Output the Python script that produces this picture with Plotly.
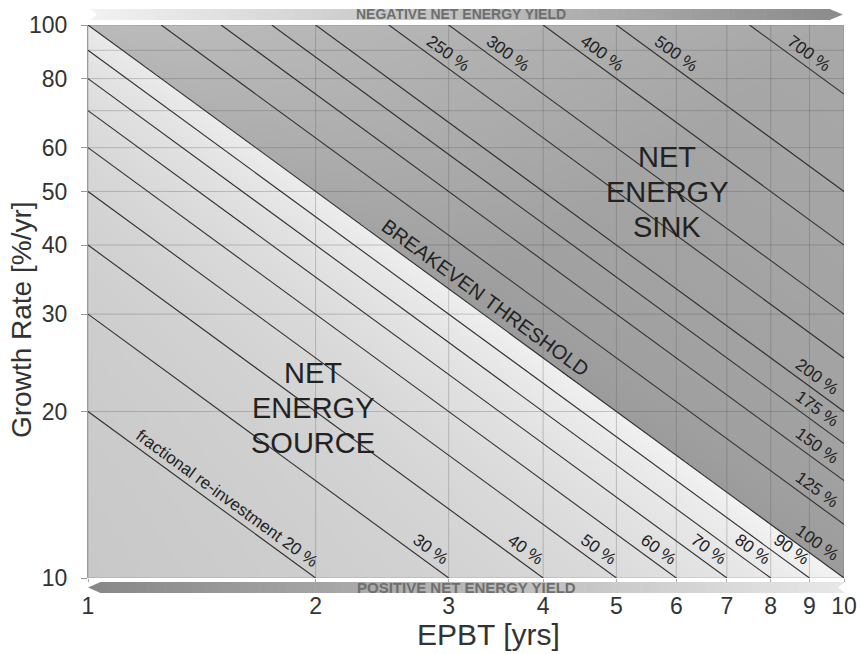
import math
import numpy as np
import plotly.graph_objects as go

# ---------------- data ----------------
epbt_ticks = [1, 2, 3, 4, 5, 6, 7, 8, 9, 10]
growth_grid = [10, 20, 30, 40, 50, 60, 70, 80, 90, 100]
growth_ticks = [10, 20, 30, 40, 50, 60, 80, 100]

source_lines = [20, 30, 40, 50, 60, 70, 80, 90]          # fractional re-investment [%]
source_labels = ["fractional re-investment 20 %", "30 %", "40 %", "50 %",
                 "60 %", "70 %", "80 %", "90 %"]
breakeven_line = [100]
breakeven_labels = ["100 %"]
sink_lines = [125, 150, 175, 200, 250, 300, 400, 500, 750]
sink_labels = ["125 %", "150 %", "175 %", "200 %", "250 %", "300 %",
               "400 %", "500 %", "700 %"]

# ---------------- layout geometry ----------------
W, H = 861, 654
L, R, T, B = 88, 17, 25, 76
PW, PH = W - L - R, H - T - B
XR = [0, 1]          # log10 range EPBT
YR = [1, 2]          # log10 range growth
ANG = math.degrees(math.atan((PH / (YR[1] - YR[0])) / (PW / (XR[1] - XR[0]))))
FONT = "Liberation Sans, Arial, sans-serif"


def px_x(px):
    return (px - L) / PW


def px_y(py):
    return (H - B - py) / PH


fig = go.Figure()

# ---------------- background shading ----------------
nu, nv = 760, 560
u = (np.arange(nu) + 0.5) / nu
v = (np.arange(nv) + 0.5) / nv
U, V = np.meshgrid(u, v)
S = U + V
Wd = U - V
light = 200 + 14 * S + 24 * S ** 4 + 5 * Wd
D = S - 1
dark = 160 + 30 * np.clip(-Wd, 0, None) + 8 * D - 5 * np.exp(-D / 0.08)
G = np.where(S < 1, light, dark).astype(np.float32)
fig.add_trace(go.Heatmap(
    x=10 ** u, y=10 ** (1 + v), z=G, zmin=0, zmax=255,
    colorscale=[[0, "rgb(0,0,0)"], [1, "rgb(255,255,255)"]],
    showscale=False, hoverinfo="skip"))

# ---------------- grid lines ----------------
gx, gy = [], []
for xv in epbt_ticks:
    gx += [xv, xv, None]
    gy += [growth_grid[0], growth_grid[-1], None]
for yv in growth_grid:
    gx += [epbt_ticks[0], epbt_ticks[-1], None]
    gy += [yv, yv, None]
fig.add_trace(go.Scatter(x=gx, y=gy, mode="lines", hoverinfo="skip",
                         line=dict(color="rgba(80,80,80,0.28)", width=1)))

# ---------------- iso re-investment lines ----------------
xmin, xmax = epbt_ticks[0], epbt_ticks[-1]
ymin, ymax = growth_grid[0], growth_grid[-1]
all_lines = source_lines + breakeven_line + sink_lines
lx, ly = [], []
for f in all_lines:
    x0 = max(xmin, f / ymax)
    x1 = min(xmax, f / ymin)
    lx += [x0, x1, None]
    ly += [f / x0, f / x1, None]
fig.add_trace(go.Scatter(x=lx, y=ly, mode="lines", hoverinfo="skip",
                         line=dict(color="#303030", width=1.1)))

# ---------------- line labels ----------------
K = 1.065
annos = []


def lab(text, x, y, size=17):
    annos.append(dict(x=math.log10(x), y=math.log10(y), text=text, showarrow=False,
                      textangle=ANG, font=dict(family=FONT, size=size, color="#222222"),
                      xanchor="center", yanchor="middle"))


# 20 % along its line
lab(source_labels[0], 1.527, K * source_lines[0] / 1.527)
# bottom cluster
for f, t in zip(source_lines[1:], source_labels[1:]):
    y0 = 11.25
    lab(t, K * f / y0, y0)
# right cluster
for f, t in zip(breakeven_line + sink_lines[:4], breakeven_labels + sink_labels[:4]):
    x0 = 9.2
    lab(t, x0, K * f / x0)
# top cluster
for f, t in zip(sink_lines[4:], sink_labels[4:]):
    y0 = 88.9
    lab(t, K * f / y0, y0)

# breakeven label
annos.append(dict(x=math.log10(3.36), y=math.log10(1.08 * 100 / 3.36), text="BREAKEVEN THRESHOLD",
                  showarrow=False, textangle=ANG,
                  font=dict(family=FONT, size=20, color="#222222")))

# region labels
for words, cx, cy in [(["NET", "ENERGY", "SOURCE"], 313, 408), (["NET", "ENERGY", "SINK"], 667, 192)]:
    for i, wd in enumerate(words):
        annos.append(dict(xref="paper", yref="paper", x=px_x(cx), y=px_y(cy + (i - 1) * 35),
                          text=wd, showarrow=False,
                          font=dict(family=FONT, size=29, color="#222222"),
                          xanchor="center", yanchor="middle"))

# axis titles
annos.append(dict(xref="paper", yref="paper", x=px_x(21), y=px_y(320), text="Growth Rate [%/yr]",
                  showarrow=False, textangle=-90, xanchor="center", yanchor="middle",
                  font=dict(family=FONT, size=28, color="#333333")))
annos.append(dict(xref="paper", yref="paper", x=px_x(488), y=px_y(634), text="EPBT [yrs]",
                  showarrow=False, xanchor="center", yanchor="middle",
                  font=dict(family=FONT, size=30, color="#333333")))

# banner texts
annos.append(dict(xref="paper", yref="paper", x=px_x(461), y=px_y(14.5),
                  text="<b>NEGATIVE NET ENERGY YIELD</b>", showarrow=False,
                  xanchor="center", yanchor="middle",
                  font=dict(family=FONT, size=14, color="#6e6e6e")))
annos.append(dict(xref="paper", yref="paper", x=px_x(467), y=px_y(587.5),
                  text="<b>POSITIVE NET ENERGY YIELD</b>", showarrow=False,
                  xanchor="center", yanchor="middle",
                  font=dict(family=FONT, size=15, color="#6e6e6e")))

# ---------------- banners (gradient arrows) ----------------
shapes = []


def gcol(g):
    g = int(round(g))
    return f"rgb({g},{g},{g})"


def banner(x0, x1, y0, y1, g0, g1, n=80):
    for i in range(n):
        a = x0 + (x1 - x0) * i / n
        b = x0 + (x1 - x0) * (i + 1) / n + 0.6
        g = g0 + (g1 - g0) * (i + 0.5) / n
        shapes.append(dict(type="rect", xref="paper", yref="paper",
                           x0=px_x(a), x1=px_x(b), y0=px_y(y1), y1=px_y(y0),
                           fillcolor=gcol(g), line=dict(width=0), layer="above"))


def tri(pts, g):
    path = "M " + " L ".join(f"{px_x(a)},{px_y(b)}" for a, b in pts) + " Z"
    shapes.append(dict(type="path", xref="paper", yref="paper", path=path,
                       fillcolor=gcol(g), line=dict(width=0), layer="above"))


# top: pointing right, light -> dark
banner(90, 830, 9, 20, 242, 140)
tri([(829.5, 9), (843, 14.5), (829.5, 20)], 140)
tri([(89.5, 8.5), (97, 14.5), (89.5, 20.5)], 255)
# bottom: pointing left, dark -> light
banner(100, 845, 582, 593, 136, 232)
tri([(88, 587.5), (100.5, 582), (100.5, 593)], 136)
tri([(845.5, 581.5), (838, 587.5), (845.5, 593.5)], 255)

fig.update_layout(
    width=W, height=H, autosize=False, margin=dict(l=L, r=R, t=T, b=B),
    paper_bgcolor="white", plot_bgcolor="#d8d8d8",
    showlegend=False, hovermode=False,
    annotations=annos, shapes=shapes,
    xaxis=dict(type="log", range=XR, tickvals=epbt_ticks, ticktext=[str(t) for t in epbt_ticks],
               showgrid=False, zeroline=False, showline=False, automargin=False,
               ticks="outside", ticklen=3, tickcolor="#aaaaaa", ticklabelstandoff=4,
               tickfont=dict(family=FONT, size=23, color="#333333")),
    yaxis=dict(type="log", range=YR, tickvals=growth_ticks, ticktext=[str(t) for t in growth_ticks],
               showgrid=False, zeroline=False, showline=True, linecolor="#9a9a9a", linewidth=1,
               automargin=False,
               ticks="outside", ticklen=6, tickcolor="#9a9a9a", ticklabelstandoff=9,
               tickfont=dict(family=FONT, size=23, color="#333333")),
)

fig.write_html(
    "out.html",
    config={"displayModeBar": False, "responsive": False},
    post_script="document.body.style.margin='0px';",
)
